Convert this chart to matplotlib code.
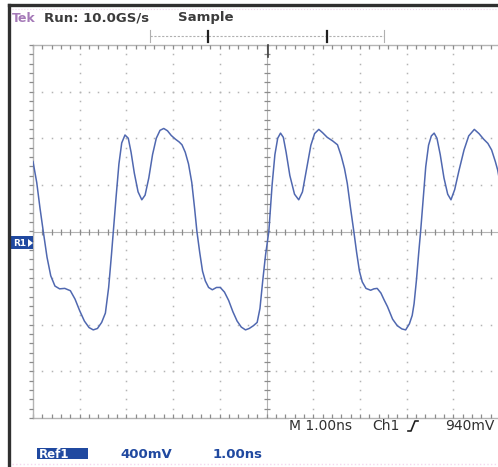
import numpy as np
import matplotlib
matplotlib.use('Agg')
import matplotlib.pyplot as plt
from matplotlib.patches import Rectangle, Polygon

W, H = 498, 467

# Ref1 waveform: time in ns, amplitude in V (400 mV/div, 1.00 ns/div)
time_ns = [0.00, 0.08, 0.15, 0.22, 0.30, 0.38, 0.47, 0.57, 0.68, 0.80, 0.90, 1.00, 1.10, 1.20,
           1.29, 1.38, 1.47, 1.55, 1.62, 1.68, 1.72, 1.78, 1.84, 1.90, 1.97, 2.04, 2.10, 2.17,
           2.25, 2.33, 2.40, 2.48, 2.56, 2.64, 2.72, 2.80, 2.88, 2.96, 3.05, 3.13, 3.19, 3.26,
           3.33, 3.40, 3.46, 3.51, 3.57, 3.63, 3.69, 3.76, 3.84, 3.93, 4.01, 4.10, 4.19, 4.28,
           4.37, 4.46, 4.55, 4.63, 4.72, 4.80, 4.86, 4.92, 4.98, 5.05, 5.12, 5.18, 5.24, 5.30,
           5.36, 5.42, 5.50, 5.60, 5.69, 5.77, 5.86, 5.95, 6.03, 6.12, 6.20, 6.30, 6.42, 6.52,
           6.60, 6.67, 6.73, 6.80, 6.87, 6.93, 6.99, 7.05, 7.13, 7.23, 7.30, 7.37, 7.45, 7.52,
           7.59, 7.70, 7.80, 7.90, 7.98, 8.06, 8.12, 8.16, 8.21, 8.26, 8.30, 8.36, 8.41, 8.47,
           8.53, 8.59, 8.65, 8.72, 8.80, 8.88, 8.95, 9.03, 9.12, 9.23, 9.33, 9.45, 9.55, 9.65,
           9.74, 9.82, 9.90, 9.95, 9.99]
volts = [0.600, 0.420, 0.200, 0.000, -0.220, -0.380, -0.468, -0.492, -0.488, -0.508, -0.580,
         -0.680, -0.768, -0.824, -0.844, -0.832, -0.780, -0.700, -0.480, -0.200, 0.000, 0.300,
         0.580, 0.760, 0.828, 0.800, 0.680, 0.500, 0.340, 0.272, 0.312, 0.460, 0.660, 0.800,
         0.868, 0.884, 0.864, 0.824, 0.792, 0.768, 0.744, 0.680, 0.580, 0.420, 0.200, 0.000,
         -0.180, -0.340, -0.424, -0.480, -0.500, -0.480, -0.480, -0.520, -0.592, -0.688,
         -0.768, -0.820, -0.844, -0.832, -0.808, -0.780, -0.660, -0.420, -0.200, 0.000, 0.400,
         0.660, 0.800, 0.844, 0.808, 0.680, 0.480, 0.320, 0.272, 0.340, 0.540, 0.740, 0.840,
         0.876, 0.848, 0.808, 0.776, 0.744, 0.648, 0.540, 0.412, 0.200, 0.000, -0.180, -0.340,
         -0.432, -0.488, -0.504, -0.492, -0.488, -0.528, -0.588, -0.644, -0.752, -0.808,
         -0.836, -0.844, -0.792, -0.720, -0.620, -0.420, -0.180, 0.000, 0.300, 0.556, 0.740,
         0.820, 0.844, 0.800, 0.660, 0.460, 0.320, 0.272, 0.360, 0.520, 0.700, 0.820, 0.876,
         0.840, 0.792, 0.756, 0.700, 0.600, 0.528, 0.440]

x_divs = 10
y_divs = 8
v_per_div = 0.4

header_left = 'Run: 10.0GS/s'
header_mode = 'Sample'
footer_time = 'M 1.00ns'
footer_trig = 'Ch1'
footer_level = '940mV'
ref_label = 'Ref1'
ref_scale = '400mV'
ref_time = '1.00ns'

grat = '#b4b4b4'
tick_c = '#8c8c8c'
trace = '#5068b0'
txt = '#3c3c3c'
blue = '#2049a0'


def px(x, y):
    return x / W, 1 - y / H


fig = plt.figure(figsize=(W / 100, H / 100), dpi=100)
fig.patch.set_facecolor('white')

# screen area, right edge runs just past the figure
left, top, bottom = 33, 45, 418
right = left + 46.7 * x_divs
ax = fig.add_axes([left / W, 1 - bottom / H, (right - left) / W, (bottom - top) / H])
ax.set_xlim(0, x_divs)
ymax = y_divs / 2 * v_per_div
ax.set_ylim(-ymax, ymax)
ax.axis('off')

# dotted graticule
sub = np.arange(0, x_divs + 0.01, 0.2)
suby = np.arange(-ymax, ymax + 0.001, 0.2 * v_per_div)
for gx in range(1, x_divs):
    if gx == x_divs // 2:
        continue
    ax.plot(np.full_like(suby, gx), suby, ls='none', marker='s', ms=1.1, mfc=grat, mec='none')
for gy in range(-y_divs // 2 + 1, y_divs // 2):
    if gy == 0:
        continue
    ax.plot(sub, np.full_like(sub, gy * v_per_div), ls='none', marker='s', ms=1.1, mfc=grat, mec='none')

# centre cross with minor ticks
ax.axhline(0, color=grat, lw=0.8)
ax.axvline(x_divs / 2, color=grat, lw=0.8)
ax.plot(sub, np.zeros_like(sub), ls='none', marker='|', ms=5, mew=0.9, color=tick_c)
ax.plot(np.full_like(suby, x_divs / 2), suby, ls='none', marker='_', ms=5, mew=0.9, color=tick_c)

# frame edges, ticks pointing inward
ax.axhline(ymax, color=grat, lw=1.0, clip_on=False)
ax.plot(sub, np.full_like(sub, ymax), ls='none', marker=3, ms=3, mew=0.9, color=tick_c, clip_on=False)
ax.axhline(-ymax, color=grat, lw=1.0, clip_on=False)
ax.plot(sub, np.full_like(sub, -ymax), ls='none', marker=2, ms=3, mew=0.9, color=tick_c, clip_on=False)
ax.axvline(0, color=grat, lw=1.0, clip_on=False)
ax.plot(np.zeros_like(suby), suby, ls='none', marker=0, ms=3, mew=0.9, color=tick_c, clip_on=False)

# trace
ax.plot(time_ns, volts, color=trace, lw=1.1, solid_joinstyle='round', zorder=5)

# outer bezel lines
fig.add_artist(plt.Line2D([9 / W, 9 / W], [0, 1 - 5 / H], color='#303030', lw=2.4))
fig.add_artist(plt.Line2D([9 / W, 1], [1 - 5 / H, 1 - 5 / H], color='#303030', lw=2.4))
fig.add_artist(plt.Line2D([12 / W, 1], [1 - 9 / H, 1 - 9 / H], color='#f3d8ee', lw=0.8, ls=':'))
fig.add_artist(plt.Line2D([12 / W, 1], [1 - 464 / H, 1 - 464 / H], color='#f3d8ee', lw=1.0, ls=':'))

# header
fig.text(*px(12, 18), 'Tek', color='#a57ab8', fontsize=9, fontweight='bold', va='center')
fig.text(*px(44, 18), header_left, color=txt, fontsize=9.5, fontweight='bold', va='center')
fig.text(*px(178, 18), header_mode, color=txt, fontsize=9.5, fontweight='bold', va='center')

# record-length bar
fig.add_artist(plt.Line2D([150 / W, 384 / W], [1 - 36 / H] * 2, color='#b0b0b0', lw=0.8, ls=(0, (2, 1.5))))
for bx in (150, 384):
    fig.add_artist(plt.Line2D([bx / W] * 2, [1 - 30 / H, 1 - 42 / H], color='#b0b0b0', lw=0.8))
for bx in (208, 327):
    fig.add_artist(plt.Line2D([bx / W] * 2, [1 - 31 / H, 1 - 42 / H], color='#202020', lw=1.6))

# trigger position marker
fig.add_artist(plt.Line2D([268 / W] * 2, [1 - 45 / H, 1 - 57 / H], color='#404040', lw=1.2))

# Ref1 ground marker
fig.patches.append(Rectangle(px(11, 249), 22 / W, 13 / H, transform=fig.transFigure,
                             facecolor=blue, edgecolor='none'))
fig.text(*px(13, 243), 'R1', color='white', fontsize=6.5, fontweight='bold', va='center')
fig.patches.append(Polygon([px(28, 239), px(28, 247), px(33, 243)], closed=True,
                           transform=fig.transFigure, facecolor='white', edgecolor='none'))

# footer readouts
fig.text(*px(289, 426), footer_time, color='#303030', fontsize=10, va='center',
         bbox=dict(facecolor='white', edgecolor='none', pad=0.3))
fig.text(*px(372, 426), footer_trig, color='#303030', fontsize=10, va='center')
fig.add_artist(plt.Line2D([408 / W, 411 / W, 415 / W, 418 / W],
                          [1 - 431 / H, 1 - 431 / H, 1 - 421 / H, 1 - 421 / H], color='#202020', lw=1.2))
fig.text(*px(445, 426), footer_level, color='#303030', fontsize=10, va='center')

fig.patches.append(Rectangle(px(37, 459), 51 / W, 11 / H, transform=fig.transFigure,
                             facecolor=blue, edgecolor='none'))
fig.text(*px(39, 454), ref_label, color='white', fontsize=8.5, fontweight='bold', va='center')
fig.text(*px(120, 454), ref_scale, color=blue, fontsize=9.5, fontweight='bold', va='center')
fig.text(*px(213, 454), ref_time, color=blue, fontsize=9.5, fontweight='bold', va='center')

fig.savefig('out.png', dpi=100, facecolor='white')
